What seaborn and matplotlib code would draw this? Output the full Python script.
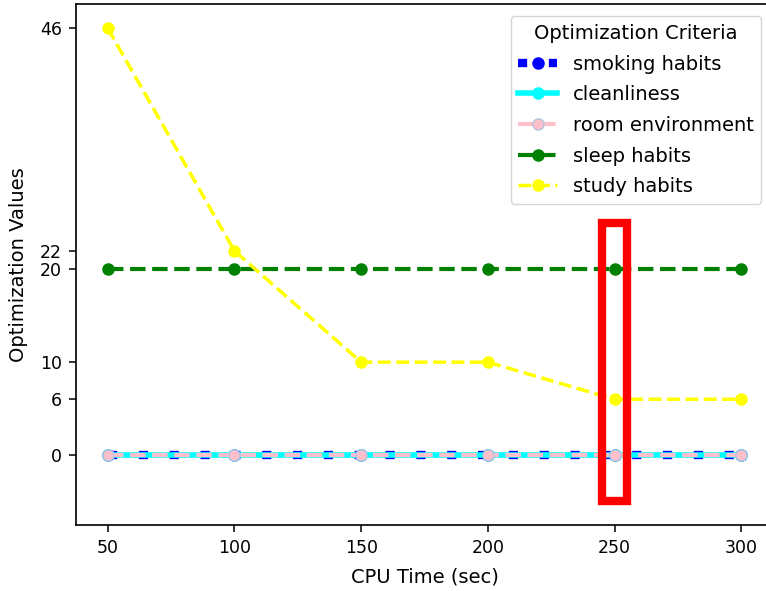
import pandas as pd
import matplotlib
matplotlib.use("Agg")
import matplotlib.pyplot as plt
from matplotlib.patches import Rectangle
import seaborn as sns

# Datos
cpu_time = [50, 100, 150, 200, 250, 300]
smoking_habits = [0, 0, 0, 0, 0, 0]
cleanliness = [0, 0, 0, 0, 0, 0]
room_environment = [0, 0, 0, 0, 0, 0]
sleep_habits = [20, 20, 20, 20, 20, 20]
study_habits = [46, 22, 10, 10, 6, 6]
y_ticks = [0, 6, 10, 20, 22, 46]
highlight_x = 250

df = pd.DataFrame({
    'cpu_time': cpu_time,
    'smoking habits': smoking_habits,
    'cleanliness': cleanliness,
    'room environment': room_environment,
    'sleep habits': sleep_habits,
    'study habits': study_habits,
})

fig = plt.figure(figsize=(7.66, 5.91), dpi=100)
# el eje derecho queda fuera del recorte, como en la referencia
ax = fig.add_axes([0.0992, 0.1117, 0.910, 0.8807])

# estilos por serie
styles = {
    'smoking habits': dict(color='blue', lw=6, ls=(0, (1.1, 2.6)), mfc='blue', mec='blue'),
    'cleanliness': dict(color='cyan', lw=4, ls='-', mfc='cyan', mec='cyan'),
    'room environment': dict(color='pink', lw=3, ls='--', mfc='pink', mec='lightsteelblue'),
    'sleep habits': dict(color='green', lw=3, ls='--', mfc='green', mec='green'),
    'study habits': dict(color='yellow', lw=2.5, ls='--', mfc='yellow', mec='yellow'),
}

for name, st in styles.items():
    sns.lineplot(data=df, x='cpu_time', y=name, ax=ax, label=name,
                 color=st['color'], linewidth=st['lw'], linestyle=st['ls'],
                 marker='o', markersize=8, markerfacecolor=st['mfc'],
                 markeredgecolor=st['mec'], markeredgewidth=1)

# recuadro rojo
ax.add_patch(Rectangle((highlight_x - 5, -5), 10, 30, fill=False,
                       edgecolor='red', linewidth=6, zorder=5))

ax.set_yticks(y_ticks)
ax.set_xticks(cpu_time)
ax.set_xlim(37.5, 312.5)
ax.set_ylim(-7.55, 48.55)
ax.tick_params(labelsize=12.5, length=5, width=1.1, pad=5)
for sp in ax.spines.values():
    sp.set_linewidth(1.2)
ax.spines['right'].set_visible(False)
ax.set_xlabel("CPU Time (sec)", fontsize=14, labelpad=8)
ax.set_ylabel("Optimization Values", fontsize=14, labelpad=9)
ax.legend(title="Optimization Criteria", loc='upper right', fontsize=14,
          title_fontsize=14, borderaxespad=0.6, labelspacing=0.6)

plt.savefig('out.png', dpi=100)
